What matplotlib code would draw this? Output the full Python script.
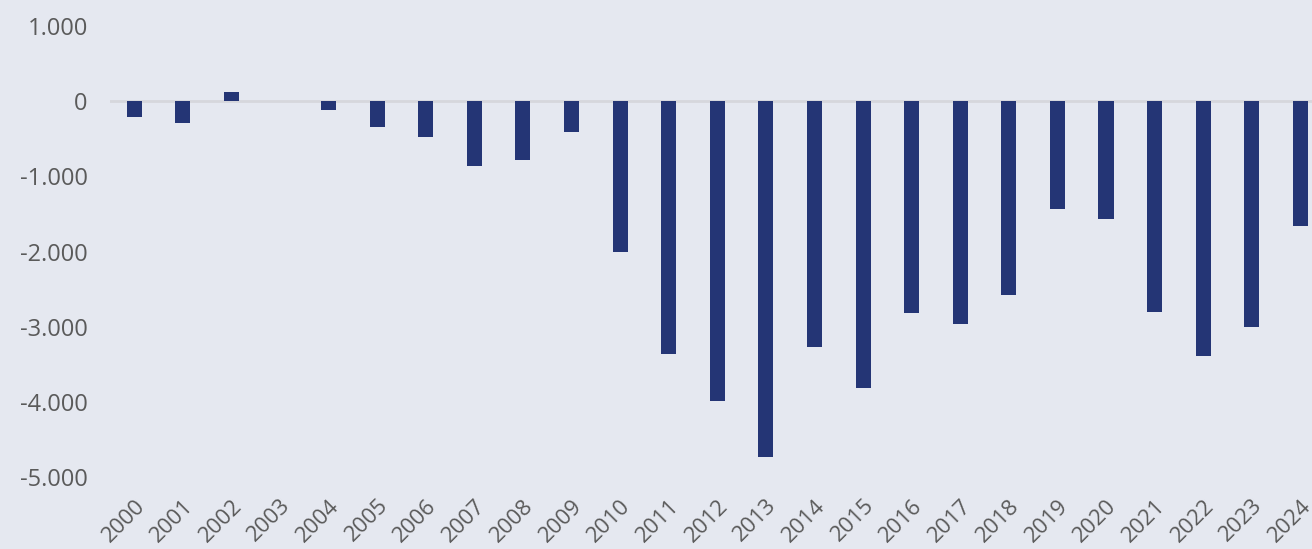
import matplotlib
matplotlib.use("Agg")
import matplotlib.pyplot as plt
from matplotlib.ticker import FuncFormatter

years = [str(y) for y in range(2000, 2025)]
values = [-210, -290, 120, 0, -110, -340, -470, -860, -780, -410,
          -2010, -3360, -3990, -4730, -3270, -3810, -2820, -2970, -2580,
          -1440, -1560, -2810, -3390, -3000, -1660]
y_ticks = [1000, 0, -1000, -2000, -3000, -4000, -5000]

BG = "#e5e8f0"
BAR = "#243575"
TXT = "#5a5a5a"

plt.rcParams["font.family"] = ["Open Sans", "DejaVu Sans"]

fig = plt.figure(figsize=(13.12, 5.49), dpi=100, facecolor=BG)
ax = fig.add_axes([0.0838, 0.131, 0.9162, 0.8215], facecolor=BG)

x = list(range(len(years)))
ax.bar(x, values, width=0.31, color=BAR, zorder=3)
ax.axhline(0, color="#d6d7dc", lw=2, zorder=2)

ax.set_xlim(-0.5, 24.24)
ax.set_ylim(-5000, 1000)
ax.set_yticks(y_ticks)
ax.yaxis.set_major_formatter(FuncFormatter(lambda v, p: f"{int(v):,}".replace(",", ".")))
ax.set_xticks(x)
ax.set_xticklabels(years, rotation=45, ha="right", va="top", rotation_mode="anchor")

ax.tick_params(axis="y", length=0, pad=16, labelsize=17, labelcolor=TXT)
ax.tick_params(axis="x", length=0, pad=13, labelsize=16, labelcolor=TXT)
for s in ax.spines.values():
    s.set_visible(False)

fig.savefig("out.png", dpi=100, facecolor=BG)
